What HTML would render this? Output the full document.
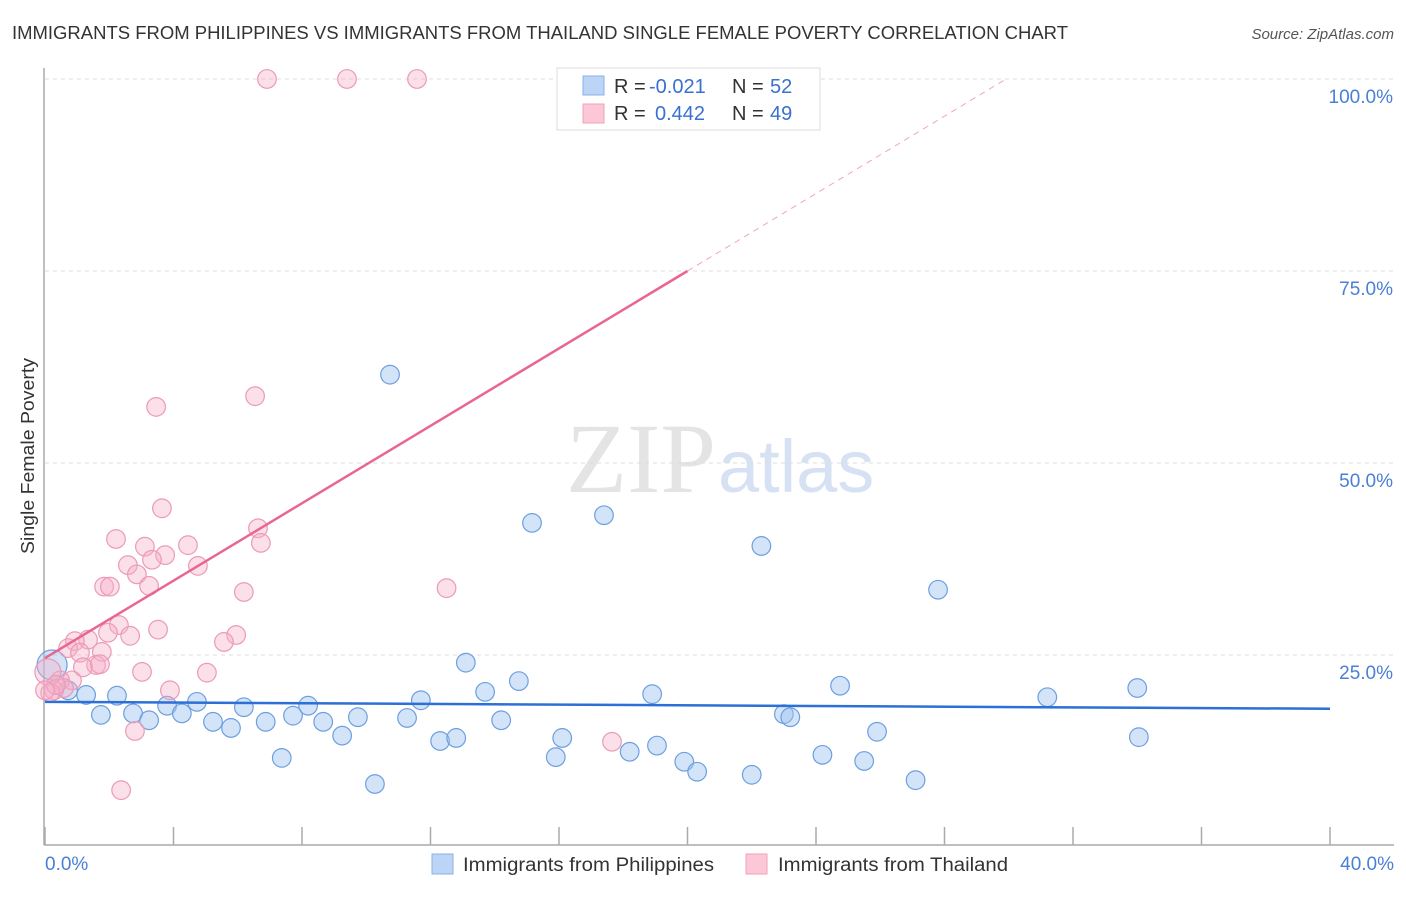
<!DOCTYPE html>
<html><head><meta charset="utf-8"><style>
body{margin:0;background:#fff;font-family:"Liberation Sans",sans-serif}
</style></head><body>
<svg width="1406" height="892" xmlns="http://www.w3.org/2000/svg" id="svg">
<text x="12" y="39" font-size="18" fill="#333" textLength="1056" lengthAdjust="spacingAndGlyphs">IMMIGRANTS FROM PHILIPPINES VS IMMIGRANTS FROM THAILAND SINGLE FEMALE POVERTY CORRELATION CHART</text>
<text x="1394" y="39" font-size="15" fill="#555" font-style="italic" text-anchor="end">Source: ZipAtlas.com</text>
<text x="716" y="492" font-size="100" fill="#e4e4e4" font-family="Liberation Serif" text-anchor="end">ZIP</text>
<text x="718" y="492" font-size="74" fill="#d6e2f3">atlas</text>
<g id="grid"></g>
<line x1="44" y1="68" x2="44" y2="845" stroke="#aaa" stroke-width="1.5"/>
<line x1="44" y1="845" x2="1394" y2="845" stroke="#aaa" stroke-width="1.5"/>
<text transform="translate(34,456) rotate(-90)" font-size="18" fill="#333" text-anchor="middle" textLength="196" lengthAdjust="spacingAndGlyphs">Single Female Poverty</text>
<text x="45" y="870" font-size="19" fill="#4a7fd6">0.0%</text>
<text x="1394" y="870" font-size="19" fill="#4a7fd6" text-anchor="end">40.0%</text>
<g id="marks"></g>
<g>
<rect x="557" y="68" width="263" height="62" fill="#fff" stroke="#ddd"/>
<rect x="583" y="76" width="21" height="19" fill="#bcd4f5" stroke="#8ab0e6"/>
<rect x="583" y="104" width="21" height="19" fill="#fcc8d8" stroke="#efa0ba"/>
<text x="614" y="93" font-size="20" fill="#333">R = <tspan fill="#3a70cf" x="649">-0.021</tspan><tspan x="732">N = </tspan><tspan fill="#3a70cf" x="770">52</tspan></text>
<text x="614" y="120" font-size="20" fill="#333">R = <tspan fill="#3a70cf" x="655">0.442</tspan><tspan x="732">N = </tspan><tspan fill="#3a70cf" x="770">49</tspan></text>
</g>
<g>
<rect x="432" y="854" width="21" height="20" fill="#bcd4f5" stroke="#8ab0e6"/>
<text x="463" y="871" font-size="19" fill="#333" textLength="251" lengthAdjust="spacingAndGlyphs">Immigrants from Philippines</text>
<rect x="746" y="854" width="21" height="20" fill="#fcc8d8" stroke="#efa0ba"/>
<text x="778" y="871" font-size="19" fill="#333" textLength="230" lengthAdjust="spacingAndGlyphs">Immigrants from Thailand</text>
</g>
</svg>
<script>
const yTicks=[25,50,75,100];
const yTickLabels=["25.0%","50.0%","75.0%","100.0%"];
const xTicks=[0,4,8,12,16,20,24,28,32,36,40];
const blueX=[0.22,0.72,1.28,1.74,2.24,2.74,3.24,3.8,4.26,4.73,5.23,5.79,6.19,6.87,7.37,7.72,8.19,8.66,9.25,9.74,10.27,10.74,11.27,11.7,12.3,12.8,13.1,13.7,14.2,14.75,15.16,15.9,16.1,17.4,18.2,18.9,19.05,19.9,20.3,22.0,22.3,23.0,23.2,24.2,24.75,25.5,25.9,27.1,27.8,31.2,34.0,34.05];
const blueY=[23.7,20.4,19.8,17.2,19.7,17.4,16.5,18.4,17.4,18.9,16.3,15.5,18.2,16.3,11.6,17.1,18.4,16.3,14.5,16.9,8.2,61.5,16.8,19.1,13.8,14.2,24.0,20.2,16.5,21.6,42.2,11.7,14.2,43.2,12.4,19.9,13.2,11.1,9.8,9.4,39.2,17.3,16.9,12.0,21.0,11.2,15.0,8.7,33.5,19.5,20.7,14.3];
const pinkX=[6.91,9.4,11.58,6.54,3.46,3.64,6.63,2.21,3.11,4.45,6.72,3.74,3.33,2.58,4.76,2.86,3.24,1.84,2.02,6.19,12.5,2.3,3.52,5.95,1.96,2.65,1.34,0.93,5.57,0.72,1.09,1.77,1.59,1.18,3.02,5.04,0.84,0.47,0.09,0.59,0.28,0.16,3.89,2.8,17.65,2.37,0.34,1.71,0.0];
const pinkY=[100,100,100,58.7,57.3,44.1,41.5,40.1,39.1,39.3,39.6,38.0,37.4,36.7,36.6,35.5,34.0,33.9,33.9,33.2,33.7,28.9,28.3,27.6,27.9,27.5,27.0,26.8,26.7,25.9,25.3,25.4,23.7,23.4,22.8,22.7,21.7,21.7,22.8,20.7,20.4,20.1,20.4,15.1,13.7,7.4,21.1,23.8,20.4];
const blueTrend=[18.9,18.0];
const pinkTrend=[24.6,2.52];
const NS="http://www.w3.org/2000/svg";
const X=v=>45+v/40*1285, Y=v=>847-v/100*768;
function mk(t,a,p){const e=document.createElementNS(NS,t);for(const k in a)e.setAttribute(k,a[k]);p.appendChild(e);return e;}
const grid=document.getElementById('grid'),marks=document.getElementById('marks'),svg=document.getElementById('svg');
yTicks.forEach((v,i)=>{
  const l=mk('line',{x1:45,x2:1394,y1:Y(v),y2:Y(v),stroke:'#ddd','stroke-dasharray':'4,4'},grid);
  
  
  const t=mk('text',{x:1393,y:Y(v)+24,'font-size':19,fill:'#4a7fd6','text-anchor':'end'},grid);
  t.textContent=yTickLabels[i];
  
  
});
xTicks.forEach(v=>{
  const l=mk('line',{x1:X(v),x2:X(v),y1:827,y2:845,stroke:'#aaa','stroke-width':1.5},grid);
  
  
});
blueX.forEach((x,i)=>{
  const c=mk('circle',{cx:X(x),cy:Y(blueY[i]),r:i==0?15:9.3,fill:'rgba(160,196,240,0.45)',stroke:'#6c9fe0','stroke-width':1.2},marks);
  
  
});
pinkX.forEach((x,i)=>{
  const c=mk('circle',{cx:X(x),cy:Y(pinkY[i]),r:x==0.09?13:9.3,fill:'rgba(246,176,200,0.4)',stroke:'#ec9ab6','stroke-width':1.2},marks);
  
  
});
const bl=mk('line',{x1:X(0),y1:Y(blueTrend[0]),x2:X(40),y2:Y(blueTrend[1]),stroke:'#2c6fd6','stroke-width':2.5},marks);


const xs=20,xe=(100-pinkTrend[0])/pinkTrend[1];
const pl=mk('line',{x1:X(0),y1:Y(pinkTrend[0]),x2:X(xs),y2:Y(pinkTrend[0]+pinkTrend[1]*xs),stroke:'#e8668f','stroke-width':2.5},marks);


const pd=mk('line',{x1:X(xs),y1:Y(pinkTrend[0]+pinkTrend[1]*xs),x2:X(xe),y2:Y(100),stroke:'#f0a5bd','stroke-width':1,'stroke-dasharray':'6,5'},marks);


</script>
</body></html>
